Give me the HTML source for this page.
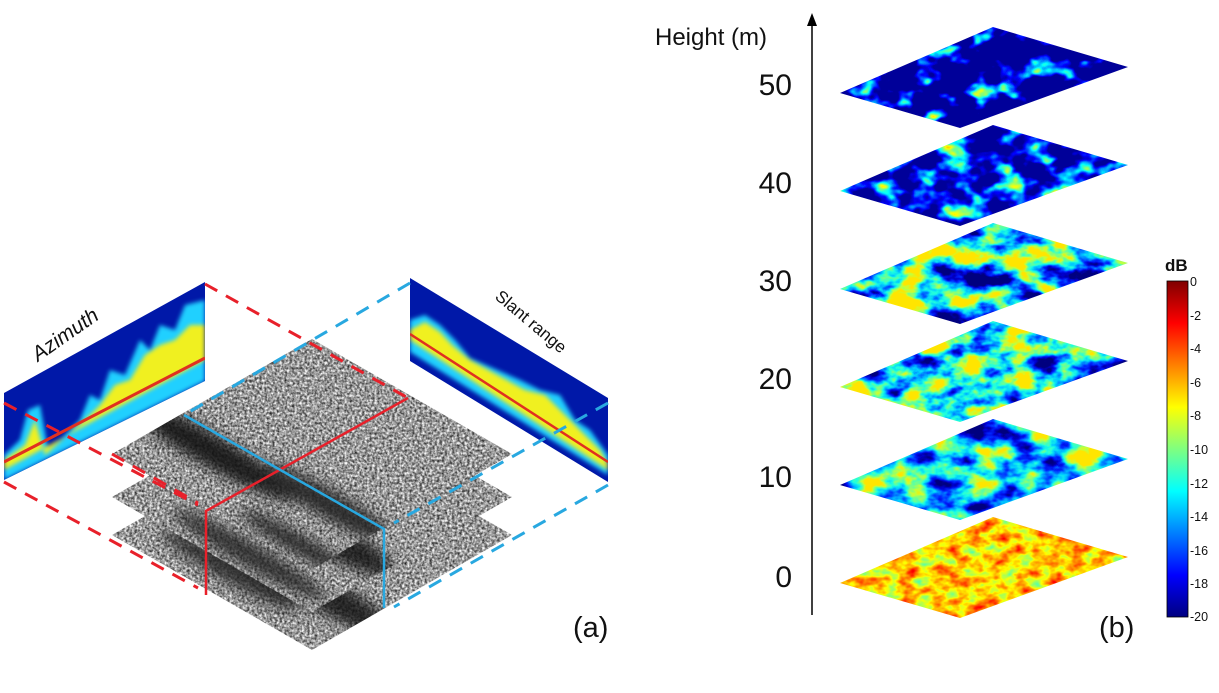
<!DOCTYPE html>
<html><head><meta charset="utf-8"><style>
html,body{margin:0;padding:0;background:#fff;}
svg{display:block;font-family:"Liberation Sans",sans-serif;}
filter{color-interpolation-filters:sRGB;}
</style></head><body>
<svg width="1219" height="693" viewBox="0 0 1219 693" xmlns="http://www.w3.org/2000/svg" color-interpolation-filters="sRGB">
<defs>
<linearGradient id="cb" x1="0" y1="0" x2="0" y2="1">
<stop offset="0" stop-color="#800000"/><stop offset="0.125" stop-color="#ff0000"/>
<stop offset="0.375" stop-color="#ffff00"/><stop offset="0.625" stop-color="#00ffff"/>
<stop offset="0.875" stop-color="#0000ff"/><stop offset="1" stop-color="#000080"/>
</linearGradient>
<filter id="gray" filterUnits="userSpaceOnUse" x="100" y="330" width="430" height="330" color-interpolation-filters="sRGB">
<feTurbulence type="fractalNoise" baseFrequency="0.4" numOctaves="2" seed="3" result="n"/>
<feColorMatrix in="n" type="matrix" values="1 0 0 0 0 1 0 0 0 0 1 0 0 0 0 0 0 0 0 1"/>
<feComponentTransfer><feFuncR type="linear" slope="1.3" intercept="-0.05"/><feFuncG type="linear" slope="1.3" intercept="-0.05"/><feFuncB type="linear" slope="1.3" intercept="-0.05"/></feComponentTransfer>
<feComposite in2="SourceAlpha" operator="in"/>
</filter>
<filter id="blur6"><feGaussianBlur stdDeviation="7"/></filter>
<filter id="blur2"><feGaussianBlur stdDeviation="2"/></filter>
<filter id="j50" filterUnits="userSpaceOnUse" x="830" y="15" width="310" height="125" color-interpolation-filters="sRGB">
<feTurbulence type="fractalNoise" baseFrequency="0.035 0.05" numOctaves="3" seed="11"/>
<feColorMatrix type="matrix" values="1 0 0 0 0 1 0 0 0 0 1 0 0 0 0 0 0 0 0 1"/>
<feComponentTransfer><feFuncR type="linear" slope="2" intercept="-1.07"/><feFuncG type="linear" slope="2" intercept="-1.07"/><feFuncB type="linear" slope="2" intercept="-1.07"/></feComponentTransfer>
<feComponentTransfer><feFuncR type="table" tableValues="0 0 0 0 .5 1 1 1 .5"/><feFuncG type="table" tableValues="0 0 .5 1 1 1 .5 0 0"/><feFuncB type="table" tableValues=".6 1 1 1 .5 0 0 0 0"/></feComponentTransfer>
<feComposite in2="SourceAlpha" operator="in"/>
</filter>
<filter id="j40" filterUnits="userSpaceOnUse" x="830" y="115" width="310" height="125" color-interpolation-filters="sRGB">
<feTurbulence type="fractalNoise" baseFrequency="0.035 0.05" numOctaves="3" seed="5"/>
<feColorMatrix type="matrix" values="1 0 0 0 0 1 0 0 0 0 1 0 0 0 0 0 0 0 0 1"/>
<feComponentTransfer><feFuncR type="linear" slope="1.8" intercept="-0.8"/><feFuncG type="linear" slope="1.8" intercept="-0.8"/><feFuncB type="linear" slope="1.8" intercept="-0.8"/></feComponentTransfer>
<feComponentTransfer><feFuncR type="table" tableValues="0 0 0 0 .5 1 1 1 .5"/><feFuncG type="table" tableValues="0 0 .5 1 1 1 .5 0 0"/><feFuncB type="table" tableValues=".6 1 1 1 .5 0 0 0 0"/></feComponentTransfer>
<feComposite in2="SourceAlpha" operator="in"/>
</filter>
<filter id="j30" filterUnits="userSpaceOnUse" x="830" y="210" width="310" height="125" color-interpolation-filters="sRGB">
<feTurbulence type="fractalNoise" baseFrequency="0.028 0.045" numOctaves="4" seed="7"/>
<feColorMatrix type="matrix" values="1 0 0 0 0 1 0 0 0 0 1 0 0 0 0 0 0 0 0 1"/>
<feComponentTransfer><feFuncR type="linear" slope="2.6" intercept="-0.74"/><feFuncG type="linear" slope="2.6" intercept="-0.74"/><feFuncB type="linear" slope="2.6" intercept="-0.74"/></feComponentTransfer>
<feComponentTransfer><feFuncR type="table" tableValues="0 0 0 0 0 .12 .45 .78 1"/><feFuncG type="table" tableValues="0 0 .15 .48 .8 1 1 1 .9"/><feFuncB type="table" tableValues=".5 .82 1 1 1 .88 .55 .22 0"/></feComponentTransfer>
<feComposite in2="SourceAlpha" operator="in"/>
</filter>
<filter id="j20" filterUnits="userSpaceOnUse" x="830" y="310" width="310" height="125" color-interpolation-filters="sRGB">
<feTurbulence type="fractalNoise" baseFrequency="0.028 0.045" numOctaves="4" seed="9"/>
<feColorMatrix type="matrix" values="1 0 0 0 0 1 0 0 0 0 1 0 0 0 0 0 0 0 0 1"/>
<feComponentTransfer><feFuncR type="linear" slope="2.6" intercept="-0.72"/><feFuncG type="linear" slope="2.6" intercept="-0.72"/><feFuncB type="linear" slope="2.6" intercept="-0.72"/></feComponentTransfer>
<feComponentTransfer><feFuncR type="table" tableValues="0 0 0 0 0 .12 .45 .78 1"/><feFuncG type="table" tableValues="0 0 .15 .48 .8 1 1 1 .9"/><feFuncB type="table" tableValues=".5 .82 1 1 1 .88 .55 .22 0"/></feComponentTransfer>
<feComposite in2="SourceAlpha" operator="in"/>
</filter>
<filter id="j10" filterUnits="userSpaceOnUse" x="830" y="405" width="310" height="125" color-interpolation-filters="sRGB">
<feTurbulence type="fractalNoise" baseFrequency="0.028 0.045" numOctaves="4" seed="13"/>
<feColorMatrix type="matrix" values="1 0 0 0 0 1 0 0 0 0 1 0 0 0 0 0 0 0 0 1"/>
<feComponentTransfer><feFuncR type="linear" slope="2.2" intercept="-0.58"/><feFuncG type="linear" slope="2.2" intercept="-0.58"/><feFuncB type="linear" slope="2.2" intercept="-0.58"/></feComponentTransfer>
<feComponentTransfer><feFuncR type="table" tableValues="0 0 0 0 0 .12 .45 .78 1"/><feFuncG type="table" tableValues="0 0 .15 .48 .8 1 1 1 .9"/><feFuncB type="table" tableValues=".5 .82 1 1 1 .88 .55 .22 0"/></feComponentTransfer>
<feComposite in2="SourceAlpha" operator="in"/>
</filter>
<filter id="j0" filterUnits="userSpaceOnUse" x="830" y="505" width="310" height="125" color-interpolation-filters="sRGB">
<feTurbulence type="fractalNoise" baseFrequency="0.06 0.09" numOctaves="3" seed="2"/>
<feColorMatrix type="matrix" values="1 0 0 0 0 1 0 0 0 0 1 0 0 0 0 0 0 0 0 1"/>
<feComponentTransfer><feFuncR type="linear" slope="0.6" intercept="0.37"/><feFuncG type="linear" slope="0.6" intercept="0.37"/><feFuncB type="linear" slope="0.6" intercept="0.37"/></feComponentTransfer>
<feComponentTransfer><feFuncR type="table" tableValues="0 0 0 0 .5 1 1 1 .5"/><feFuncG type="table" tableValues="0 0 .5 1 1 1 .5 0 0"/><feFuncB type="table" tableValues=".6 1 1 1 .5 0 0 0 0"/></feComponentTransfer>
<feComposite in2="SourceAlpha" operator="in"/>
</filter>
<clipPath id="s1"><polygon points="312,339 512,454 312,569 112,454"/></clipPath>
<clipPath id="s2"><polygon points="312,382 512,497 312,612 112,497"/></clipPath>
<clipPath id="s3"><polygon points="312,420 512,535 312,650 112,535"/></clipPath>
<clipPath id="az"><polygon points="4,393 205,282 205,381 4,480"/></clipPath>
<clipPath id="sr"><polygon points="410,278 608,398 608,482 410,361"/></clipPath>
</defs>

<g>
<polygon points="312,420 512,535 312,650 112,535" fill="#888" filter="url(#gray)"/>
<g clip-path="url(#s3)" opacity="0.85"><g filter="url(#blur6)">
<ellipse cx="300" cy="580" rx="120" ry="18" fill="#111" transform="rotate(30 300 580)"/>
<ellipse cx="230" cy="570" rx="80" ry="12" fill="#222" transform="rotate(30 230 570)"/>
</g></g>
<polygon points="312,382 512,497 312,612 112,497" fill="#888" filter="url(#gray)"/>
<g clip-path="url(#s2)" opacity="0.85"><g filter="url(#blur6)">
<ellipse cx="300" cy="520" rx="110" ry="20" fill="#111" transform="rotate(30 300 520)"/>
<ellipse cx="250" cy="555" rx="90" ry="12" fill="#222" transform="rotate(30 250 555)"/>
</g></g>
<polygon points="312,339 512,454 312,569 112,454" fill="#888" filter="url(#gray)"/>
<g clip-path="url(#s1)" opacity="0.9"><g filter="url(#blur6)">
<ellipse cx="210" cy="450" rx="100" ry="16" fill="#111" transform="rotate(30 210 450)"/>
<ellipse cx="330" cy="505" rx="80" ry="14" fill="#222" transform="rotate(30 330 505)"/>
<ellipse cx="300" cy="545" rx="70" ry="10" fill="#222" transform="rotate(30 300 545)"/>
</g></g>
</g>

<g clip-path="url(#az)">
<rect x="0" y="270" width="210" height="220" fill="#0018a8"/>
<g filter="url(#blur2)">
<path d="M4,455 L20,440 L28,410 L40,405 L48,450 L60,440 L80,420 L90,395 L100,400 L110,370 L125,375 L140,340 L150,350 L160,325 L175,330 L185,305 L205,300 L205,381 L4,480 Z" fill="#20d0ff"/>
<path d="M4,460 L25,445 L35,420 L45,455 L90,415 L100,405 L115,385 L130,380 L145,355 L160,345 L175,340 L190,325 L205,325 L205,360 L4,470 Z" fill="#f0f020"/>
</g>
<path d="M4,462 L205,358" stroke="#e03020" stroke-width="3"/>
</g>

<g clip-path="url(#sr)">
<rect x="405" y="270" width="210" height="220" fill="#0018a8"/>
<g filter="url(#blur2)">
<path d="M410,320 L425,315 L440,325 L455,340 L470,358 L520,380 L540,390 L560,395 L575,420 L590,430 L608,455 L608,475 L410,352 Z" fill="#20d0ff"/>
<path d="M410,330 L425,322 L440,332 L452,345 L470,360 L525,390 L545,395 L560,410 L580,430 L600,450 L608,465 L608,470 L410,340 Z" fill="#f0f020"/>
</g>
<path d="M410,334 L608,462" stroke="#e03020" stroke-width="2.5"/>
</g>
<text transform="translate(38,362) rotate(-35)" font-size="21" font-style="italic" fill="#111">Azimuth</text>
<text transform="translate(494,298) rotate(40)" font-size="17" fill="#111">Slant range</text>

<g stroke="#e8202a" stroke-width="3" stroke-dasharray="14,10" fill="none">
<line x1="205" y1="284" x2="408" y2="398"/>
<line x1="4" y1="403" x2="198" y2="505"/>
<line x1="4" y1="482" x2="198" y2="588"/>
<line x1="112" y1="454" x2="198" y2="503"/>
</g>
<g stroke="#28a8e0" stroke-width="3" stroke-dasharray="14,10" fill="none">
<line x1="410" y1="283" x2="184" y2="415"/>
<line x1="608" y1="403" x2="394" y2="523"/>
<line x1="608" y1="485" x2="394" y2="607"/>
</g>
<polyline points="408,398 206,511 206,595" stroke="#e8202a" stroke-width="2.5" fill="none"/>
<polyline points="184,415 384,529 384,608" stroke="#28a8e0" stroke-width="2.5" fill="none"/>

<text x="573" y="637" font-size="29" fill="#111">(a)</text>

<line x1="812" y1="615" x2="812" y2="24" stroke="#000" stroke-width="1.5"/>
<polygon points="812,13 807,26 817,26" fill="#000"/>
<text x="655" y="45" font-size="24" fill="#111">Height (m)</text>
<g font-size="30" fill="#111" text-anchor="end">
<text x="792" y="95">50</text>
<text x="792" y="193">40</text>
<text x="792" y="291">30</text>
<text x="792" y="389">20</text>
<text x="792" y="487">10</text>
<text x="792" y="587">0</text>
</g>

<polygon points="993,27 1128,67 960,128 840,93" fill="#00f" filter="url(#j50)"/>
<polygon points="993,125 1128,165 960,226 840,191" fill="#00f" filter="url(#j40)"/>
<polygon points="993,223 1128,263 960,324 840,289" fill="#00f" filter="url(#j30)"/>
<polygon points="993,321 1128,361 960,422 840,387" fill="#00f" filter="url(#j20)"/>
<polygon points="993,419 1128,459 960,520 840,485" fill="#00f" filter="url(#j10)"/>
<polygon points="993,517 1128,557 960,618 840,583" fill="#00f" filter="url(#j0)"/>

<text x="1099" y="637" font-size="29" fill="#111">(b)</text>

<text x="1165" y="271" font-size="17" font-weight="bold" fill="#111">dB</text>
<rect x="1167" y="281" width="21" height="336" fill="url(#cb)" stroke="#000" stroke-width="0.8"/>
<g font-size="12.5" fill="#111">
<text x="1190" y="286">0</text>
<text x="1190" y="320">-2</text>
<text x="1190" y="353">-4</text>
<text x="1190" y="387">-6</text>
<text x="1190" y="420">-8</text>
<text x="1190" y="454">-10</text>
<text x="1190" y="488">-12</text>
<text x="1190" y="521">-14</text>
<text x="1190" y="555">-16</text>
<text x="1190" y="588">-18</text>
<text x="1190" y="621">-20</text>
</g>
</svg>
</body></html>
